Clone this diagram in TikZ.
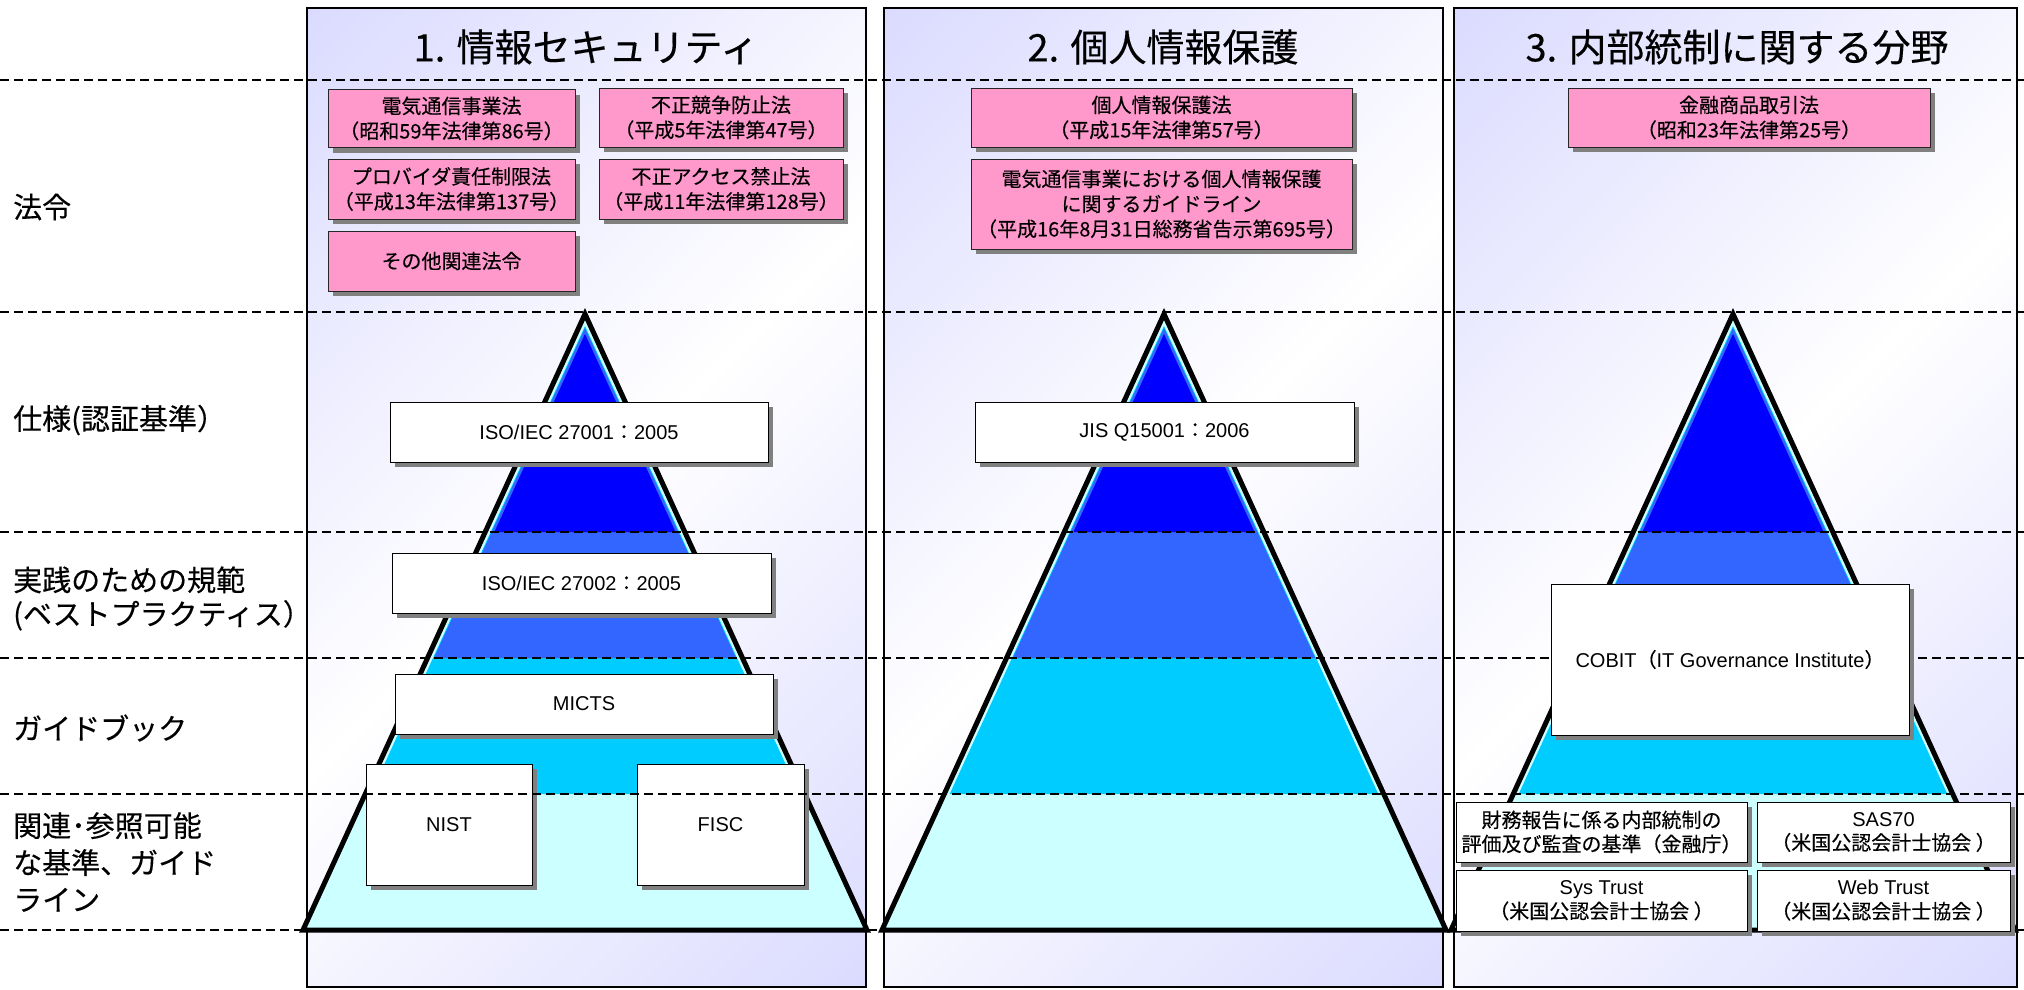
\documentclass[tikz,border=0pt]{standalone}
\usepackage{fontspec}
\setmainfont{Liberation Sans}
\newfontfamily\cjk[FakeBold=0.3]{Noto Sans CJK JP}
\usetikzlibrary{shadows}
\definecolor{lav}{RGB}{204,204,255}
\definecolor{pk}{RGB}{255,153,204}
\definecolor{shg}{RGB}{128,128,128}
\definecolor{cA}{RGB}{0,0,255}
\definecolor{cB}{RGB}{51,102,255}
\definecolor{cC}{RGB}{0,204,255}
\definecolor{cD}{RGB}{204,255,255}
\pgfdeclarehorizontalshading{panelshade}{100bp}{color(0bp)=(lav); color(50bp)=(white); color(100bp)=(lav)}
\tikzset{
  pyramid/.pic={
    \fill[cD] (0,314) -- (282,930) -- (-282,930) -- cycle;
    \fill[cC] (0,326) -- (214.3,794) -- (-214.3,794) -- cycle;
    \fill[cB] (0,328) -- (151.1,658) -- (-151.1,658) -- cycle;
    \fill[cA] (0,334) -- (90.6,532) -- (-90.6,532) -- cycle;
    \draw[line width=5pt,line join=miter] (0,314) -- (282,930) -- (-282,930) -- cycle;
  }
}
\begin{document}
\begin{tikzpicture}[x=1pt,y=-1pt,
  boxshadow/.style={drop shadow={shadow xshift=5pt,shadow yshift=-5pt,fill=shg,draw=none,opacity=1}},
  pinkbox/.style={draw=black!85,line width=1pt,fill=pk,inner sep=0pt,align=center,
    font=\cjk\fontsize{20}{25}\selectfont,boxshadow},
  whitebox/.style={draw=black,line width=1pt,fill=white,inner sep=0pt,align=center,
    font=\fontsize{20}{24}\selectfont,boxshadow},
  titletext/.style={font=\cjk\fontsize{38}{42}\selectfont},
  rowlabel/.style={anchor=west,align=left,inner sep=0pt,font=\cjk\fontsize{29}{37}\selectfont},
  sepline/.style={dash pattern=on 9pt off 5pt,line width=1.8pt},
]
\useasboundingbox (0,0) rectangle (2024,989);
\fill[white] (0,0) rectangle (2024,989);
% panels
\foreach \a/\b in {307/866,884/1443,1454/2017}{
  \shade[shading=panelshade,shading angle=-45] (\a,8) rectangle (\b,987);
  \draw[line width=2pt] (\a,8) rectangle (\b,987);
}
% pyramids
\pic at (585,0) {pyramid};
\pic at (1164,0) {pyramid};
\pic at (1733,0) {pyramid};
% boxes lying under the dashed lines
\node[whitebox,minimum width=166pt,minimum height=121pt] (nist) at (449,824.5) {NIST};
\node[whitebox,minimum width=167pt,minimum height=121pt] (fisc) at (720.5,824.5) {FISC};
% dashed separators
\foreach \yy in {80,312,532,658,794,930}{
  \draw[sepline] (0,\yy) -- (2024,\yy);
}
% titles
\node[titletext] (t1) at (586,47) {1. 情報セキュリティ};
\node[titletext] (t2) at (1163,47) {2. 個人情報保護};
\node[titletext] (t3) at (1737,47) {3. 内部統制に関する分野};
% row labels
\node[rowlabel] (r1) at (13,207) {法令};
\node[rowlabel] (r2) at (13,420) {仕様(認証基準）};
\node[rowlabel,font=\cjk\fontsize{29}{34}\selectfont] (r3) at (13,598.5) {実践のための規範\\(ベストプラクティス）};
\node[rowlabel] (r4) at (13,728) {ガイドブック};
\node[rowlabel] (r5) at (13,862) {関連･参照可能\\な基準、ガイド\\ライン};
% pink boxes
\node[pinkbox,minimum width=247pt,minimum height=58pt] (p1) at (451.5,118.5) {電気通信事業法\\（昭和59年法律第86号）};
\node[pinkbox,minimum width=244pt,minimum height=59pt] (p2) at (721,117.5) {不正競争防止法\\（平成5年法律第47号）};
\node[pinkbox,minimum width=247pt,minimum height=60pt] (p3) at (451.5,189) {プロバイダ責任制限法\\（平成13年法律第137号）};
\node[pinkbox,minimum width=244pt,minimum height=60pt] (p4) at (721,189) {不正アクセス禁止法\\（平成11年法律第128号）};
\node[pinkbox,minimum width=247pt,minimum height=60pt] (p5) at (451.5,261) {その他関連法令};
\node[pinkbox,minimum width=381pt,minimum height=59pt] (p6) at (1161.5,117.5) {個人情報保護法\\（平成15年法律第57号）};
\node[pinkbox,minimum width=381pt,minimum height=90pt] (p7) at (1161.5,204) {電気通信事業における個人情報保護\\に関するガイドライン\\（平成16年8月31日総務省告示第695号）};
\node[pinkbox,minimum width=362pt,minimum height=59pt] (p8) at (1749,117.5) {金融商品取引法\\（昭和23年法律第25号）};
% white boxes
\node[whitebox,minimum width=378pt,minimum height=60pt] (w1) at (579,432) {ISO/IEC 27001{\cjk ：}2005};
\node[whitebox,minimum width=379pt,minimum height=60pt] (w2) at (581.5,583) {ISO/IEC 27002{\cjk ：}2005};
\node[whitebox,minimum width=378pt,minimum height=60pt] (w3) at (584,704) {MICTS};
\node[whitebox,minimum width=379pt,minimum height=60pt] (w4) at (1164.5,432) {JIS Q15001{\cjk ：}2006};
\node[whitebox,minimum width=358pt,minimum height=151pt] (w5) at (1730,659.5) {COBIT{\cjk （}IT Governance Institute{\cjk ）}};
\node[whitebox,minimum width=291pt,minimum height=60pt,font=\cjk\fontsize{20}{24}\selectfont] (w6) at (1601.5,832) {財務報告に係る内部統制の\\評価及び監査の基準（金融庁）};
\node[whitebox,minimum width=253pt,minimum height=60pt] (w7) at (1883.5,832) {SAS70\\{\cjk （米国公認会計士協会 ）}};
\node[whitebox,minimum width=291pt,minimum height=61pt] (w8) at (1601.5,900.5) {Sys Trust\\{\cjk （米国公認会計士協会 ）}};
\node[whitebox,minimum width=253pt,minimum height=61pt] (w9) at (1883.5,900.5) {Web Trust\\{\cjk （米国公認会計士協会 ）}};
\end{tikzpicture}
\end{document}
